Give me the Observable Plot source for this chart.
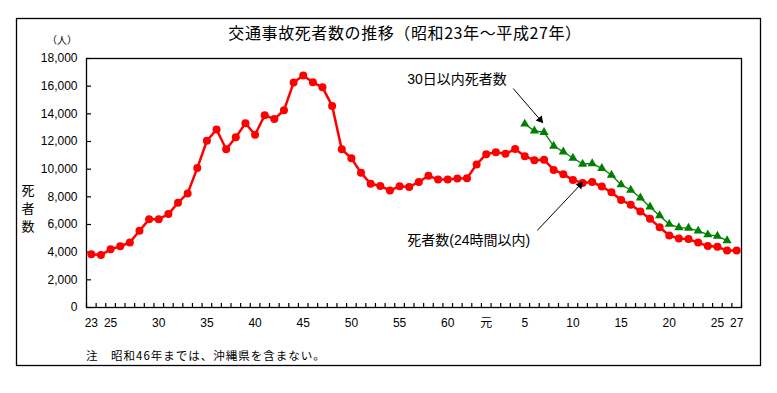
<!DOCTYPE html>
<html><head><meta charset="utf-8">
<script src="https://cdn.jsdelivr.net/npm/d3@7"></script>
<script src="https://cdn.jsdelivr.net/npm/@observablehq/plot@0.6"></script>
<style>body{margin:0;background:#fff;}</style>
</head><body><div id="chart"></div>
<script>
// Categories: years (Showa 23 = 1948 ... Heisei 27 = 2015)
const years = [1948,1949,1950,1951,1952,1953,1954,1955,1956,1957,1958,1959,1960,1961,1962,1963,1964,1965,1966,1967,1968,1969,1970,1971,1972,1973,1974,1975,1976,1977,1978,1979,1980,1981,1982,1983,1984,1985,1986,1987,1988,1989,1990,1991,1992,1993,1994,1995,1996,1997,1998,1999,2000,2001,2002,2003,2004,2005,2006,2007,2008,2009,2010,2011,2012,2013,2014,2015];
// 死者数（24時間以内）
const deaths24h = [3848,3790,4202,4429,4696,5544,6374,6379,6751,7575,8248,10079,12055,12865,11445,12301,13318,12484,13904,13618,14256,16257,16765,16278,15918,14574,11432,10792,9734,8945,8783,8466,8760,8719,9073,9520,9262,9261,9317,9347,10344,11086,11227,11109,11451,10942,10649,10684,9942,9640,9211,9006,9066,8747,8326,7768,7436,6937,6415,5796,5209,4979,4948,4691,4438,4388,4113,4117];
// 30日以内死者数
const years30d = [1993,1994,1995,1996,1997,1998,1999,2000,2001,2002,2003,2004,2005,2006,2007,2008,2009,2010,2011,2012,2013,2014];
const deaths30d = [13269,12768,12670,11674,11254,10805,10372,10403,10060,9575,8877,8492,7931,7272,6639,6023,5772,5745,5535,5261,5165,4838];
// Axis ticks
const xTickYears = [1948,1950,1955,1960,1965,1970,1975,1980,1985,1989,1993,1998,2003,2008,2013,2015];
const xTickLabels = ["23","25","30","35","40","45","50","55","60","元","5","10","15","20","25","27"];
const yTicks = [0,2000,4000,6000,8000,10000,12000,14000,16000,18000];
// Texts
const title = "交通事故死者数の推移（昭和23年～平成27年）";
const yUnit = "（人）";
const yLabel = ["死","者","数"];
const note = "注　昭和46年までは、沖縄県を含まない。";
const label30 = "30日以内死者数";
const label24 = "死者数(24時間以内)";

const rows24 = years.map((y, i) => ({year: y, value: deaths24h[i]}));
const rows30 = years30d.map((y, i) => ({year: y, value: deaths30d[i]}));
const boundaries = years.map(y => y - 0.5).concat([years[years.length - 1] + 0.5]);
const labelMap = new Map(xTickYears.map((y, i) => [y, xTickLabels[i]]));

const annotations = [
  {text: label30, x: 1980.8, y: 16480, x1: 1991.8, y1: 15830, x2: 1994.85, y2: 13370},
  {text: label24, x: 1980.8, y: 4840, x1: 1994.3, y1: 5570, x2: 1999.0, y2: 9040}
];

const font = "'Liberation Sans','Noto Sans CJK JP',sans-serif";

const plot = Plot.plot({
  width: 777, height: 393,
  marginLeft: 86, marginRight: 36, marginTop: 58, marginBottom: 86,
  style: {fontFamily: font, fontSize: "12px", color: "#000", background: "#fff", overflow: "visible"},
  x: {domain: [boundaries[0], boundaries[boundaries.length - 1]]},
  y: {domain: [0, 18000]},
  marks: [
    Plot.axisY(yTicks, {tickSize: -5, tickPadding: 14, tickFormat: d3.format(","), fontSize: 12, label: null, strokeWidth: 1.2}),
    Plot.axisX(boundaries, {tickSize: -4, tickFormat: () => "", label: null, strokeWidth: 1.2}),
    Plot.axisX(xTickYears, {tickSize: 0, tickPadding: 11, tickFormat: d => labelMap.get(d), fontSize: 12, label: null}),
    Plot.frame({stroke: "#000", strokeWidth: 1.3}),
    Plot.line(rows24, {x: "year", y: "value", stroke: "#ff0000", strokeWidth: 2.5}),
    Plot.dot(rows24, {x: "year", y: "value", r: 4, fill: "#ff0000"}),
    Plot.line(rows30, {x: "year", y: "value", stroke: "#008000", strokeWidth: 1.3}),
    Plot.dot(rows30, {x: "year", y: "value", symbol: "triangle", r: 3.4, fill: "#008000"}),
    Plot.link(annotations, {x1: "x1", y1: "y1", x2: "x2", y2: "y2", stroke: "#000", strokeWidth: 1, markerEnd: "arrow"}),
    Plot.text(annotations, {x: "x", y: "y", text: "text", textAnchor: "start", fontSize: 14, fill: "#000"})
  ]
});

document.getElementById("chart").appendChild(plot);
const svg = d3.select(plot);

// Filled arrowheads
svg.selectAll("marker").each(function() {
  const m = d3.select(this);
  m.attr("fill", "#000").attr("stroke", "none").attr("viewBox", "-6 -5 8 10")
   .attr("markerWidth", 10).attr("markerHeight", 10).attr("markerUnits", "userSpaceOnUse");
  m.selectAll("path").attr("d", "M-6,-4L1,0L-6,4Z");
});

// Outer border
svg.append("rect").attr("x", 16.5).attr("y", 18.5).attr("width", 744).attr("height", 347)
  .attr("fill", "none").attr("stroke", "#000").attr("stroke-width", 1.3);
// Title
svg.append("text").attr("x", 405).attr("y", 39).attr("text-anchor", "middle")
  .attr("font-size", 16).attr("letter-spacing", "0.6px").attr("font-family", "'Noto Sans CJK JP',sans-serif").attr("fill", "#000").text(title);
// Unit
svg.append("text").attr("x", 77).attr("y", 44).attr("text-anchor", "end")
  .attr("font-size", 10).attr("font-family", "'Noto Sans CJK JP',sans-serif").attr("fill", "#000").text(yUnit);
// Y label (vertical)
yLabel.forEach((c, i) => {
  svg.append("text").attr("x", 28).attr("y", 195 + i * 18).attr("text-anchor", "middle")
    .attr("font-size", 13).attr("font-family", "'Noto Sans CJK JP',sans-serif").attr("fill", "#000").text(c);
});
// Note
svg.append("text").attr("x", 86).attr("y", 360).attr("text-anchor", "start")
  .attr("font-size", 11.5).attr("letter-spacing", "1px").attr("font-family", "'Noto Sans CJK JP',sans-serif").attr("fill", "#000").text(note);
</script>
</body></html>
